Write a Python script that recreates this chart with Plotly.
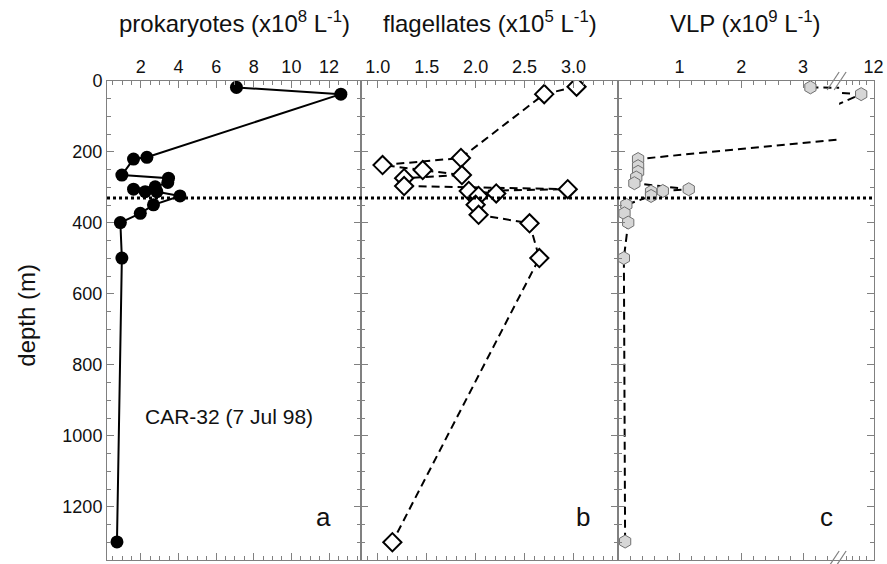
import plotly.graph_objects as go

# ---- depth profiles, station CAR-32 (7 Jul 98) ----
# prokaryotes (x10^8 L^-1)
prok_depth = [18, 37, 215, 220, 265, 274, 286, 298, 305, 312, 312, 324, 349, 373, 399, 499, 1299]
prok_val = [7.08, 12.63, 2.32, 1.61, 0.99, 3.47, 3.43, 2.76, 1.61, 2.23, 2.85, 4.08, 2.67, 1.97, 0.91, 0.99, 0.73]

# flagellates (x10^5 L^-1)
flag_depth = [16, 37, 217, 237, 251, 265, 274, 296, 305, 310, 317, 324, 349, 377, 401, 499, 1300]
flag_val = [3.03, 2.70, 1.85, 1.05, 1.46, 1.86, 1.27, 1.27, 2.94, 1.93, 2.21, 2.03, 2.00, 2.03, 2.55, 2.65, 1.15]

# virus-like particles (x10^9 L^-1)
vlp_depth = [18, 37, 220, 240, 256, 272, 288, 305, 310, 312, 324, 349, 373, 399, 499, 1298]
vlp_val = [3.12, 11.1, 0.33, 0.33, 0.33, 0.30, 0.27, 1.15, 0.73, 0.54, 0.54, 0.14, 0.11, 0.17, 0.10, 0.12]

mixed_layer_depth = 330

depth_ticks = [0, 200, 400, 600, 800, 1000, 1200]

FONT = "Arial, Liberation Sans, sans-serif"
INK = "#111111"
AXIS = "#808080"

W, H = 887, 564
ML, MR, MT, MB = 107, 10, 81, 3
PW = W - ML - MR
PH = H - MT - MB


def px(x):
    return (x - ML) / PW


dom_a = [0, px(362)]
dom_b = [px(362), px(619.7)]
dom_c1 = [px(619.7), px(842)]
dom_c2 = [px(842), 1]

fig = go.Figure()

fig.add_trace(go.Scatter(
    x=prok_val, y=prok_depth, xaxis="x", yaxis="y", mode="lines+markers",
    line=dict(color="black", width=2),
    marker=dict(symbol="circle", size=13, color="black"),
    showlegend=False))

fig.add_trace(go.Scatter(
    x=flag_val, y=flag_depth, xaxis="x2", yaxis="y2", mode="lines+markers",
    line=dict(color="black", width=2, dash="8px,5px"),
    marker=dict(symbol="diamond", size=14, color="white",
                line=dict(color="black", width=2)),
    showlegend=False))

# the VLP profile is drawn on both halves of the broken axis; each half clips it
for xa, ya in (("x3", "y3"), ("x4", "y4")):
    fig.add_trace(go.Scatter(
        x=vlp_val, y=vlp_depth, xaxis=xa, yaxis=ya, mode="lines+markers",
        line=dict(color="black", width=2, dash="8px,5px"),
        marker=dict(symbol="hexagon", size=13, color="#d6d6d6",
                    line=dict(color="#707070", width=1)),
        showlegend=False))

tickfont = dict(family=FONT, size=18, color=INK)


def xax(dom, rng, minor, anchor, tickvals, ticktext):
    return dict(domain=dom, range=rng, side="top", anchor=anchor,
                showline=True, linecolor=AXIS, linewidth=1, mirror="ticks",
                ticks="inside", ticklen=7, tickwidth=1, tickcolor=AXIS,
                showgrid=False, zeroline=False, tickfont=tickfont,
                tickmode="array", tickvals=tickvals, ticktext=ticktext,
                minor=dict(dtick=minor, tick0=0, ticks="inside", ticklen=4,
                           tickcolor=AXIS, tickwidth=1, showgrid=False))


def yax(anchor, showlabels, side="left", mirror="ticks"):
    return dict(domain=[0, 1], range=[1350, 0], anchor=anchor, side=side,
                showline=True, linecolor=AXIS, linewidth=1, mirror=mirror,
                ticks="inside", ticklen=7, tickwidth=1, tickcolor=AXIS,
                tickmode="array", tickvals=depth_ticks,
                showticklabels=showlabels, tickfont=tickfont,
                showgrid=False, zeroline=False,
                minor=dict(dtick=50, ticks="inside", ticklen=4,
                           tickcolor=AXIS, tickwidth=1, showgrid=False))


prok_ticks = [2, 4, 6, 8, 10, 12]
flag_ticks = [1.0, 1.5, 2.0, 2.5, 3.0]
vlp_ticks_low = [1, 2, 3]
vlp_ticks_high = [12]

fig.update_layout(
    width=W, height=H,
    margin=dict(l=ML, r=MR, t=MT, b=MB),
    paper_bgcolor="white", plot_bgcolor="white",
    font=dict(family=FONT, color=INK),
    xaxis=xax(dom_a, [0.2, 13.7], 0.5, "y", prok_ticks, [str(v) for v in prok_ticks]),
    xaxis2=xax(dom_b, [0.83, 3.45], 0.1, "y2", flag_ticks, [f"{v:.1f}" for v in flag_ticks]),
    xaxis3=xax(dom_c1, [0, 3.585], 0.2, "y3", vlp_ticks_low, [str(v) for v in vlp_ticks_low]),
    xaxis4=xax(dom_c2, [9.5, 12.03], 0.5, "y4", vlp_ticks_high, [str(v) for v in vlp_ticks_high]),
    yaxis=yax("x", True),
    yaxis2=yax("x2", False),
    yaxis3=yax("x3", False, mirror=False),
    yaxis4=yax("x4", False, side="right", mirror=False),
)

# mixed layer depth marker across all panels
fig.add_shape(type="line", xref="paper", yref="y", x0=0, x1=1,
              y0=mixed_layer_depth, y1=mixed_layer_depth,
              line=dict(color="black", width=3, dash="dot"))

# axis-break marks on the VLP scale
bx = px(842)
for y0 in (1, 0):
    for off in (-6, 1):
        fig.add_shape(type="line", xref="paper", yref="paper",
                      x0=bx + (off - 6) / PW, x1=bx + (off + 6) / PW,
                      y0=y0 - 9 / PH, y1=y0 + 9 / PH,
                      line=dict(color=AXIS, width=1.2))

titles = [
    ("prokaryotes (x10<sup>8</sup> L<sup>-1</sup>)", px(235)),
    ("flagellates (x10<sup>5</sup> L<sup>-1</sup>)", px(491)),
    ("VLP (x10<sup>9</sup> L<sup>-1</sup>)", px(748)),
]
for text, xc in titles:
    fig.add_annotation(text=text, xref="paper", yref="paper", x=xc, y=1,
                       xanchor="center", yanchor="bottom", yshift=42,
                       showarrow=False,
                       font=dict(family=FONT, size=24, color=INK))

fig.add_annotation(text="depth (m)", xref="paper", yref="paper",
                   x=0, xshift=-80, y=0.51, xanchor="center", yanchor="middle",
                   textangle=-90, showarrow=False,
                   font=dict(family=FONT, size=24, color=INK))

fig.add_annotation(text="CAR-32 (7 Jul 98)", xref="x", yref="y",
                   x=6.7, y=945, xanchor="center", showarrow=False,
                   font=dict(family=FONT, size=21, color=INK))

for lab, xa, ya, xv in (("a", "x", "y", 11.7), ("b", "x2", "y2", 3.1), ("c", "x3", "y3", 3.38)):
    fig.add_annotation(text=lab, xref=xa, yref=ya, x=xv, y=1230,
                       xanchor="center", showarrow=False,
                       font=dict(family=FONT, size=26, color=INK))

fig.write_html("out.html")
